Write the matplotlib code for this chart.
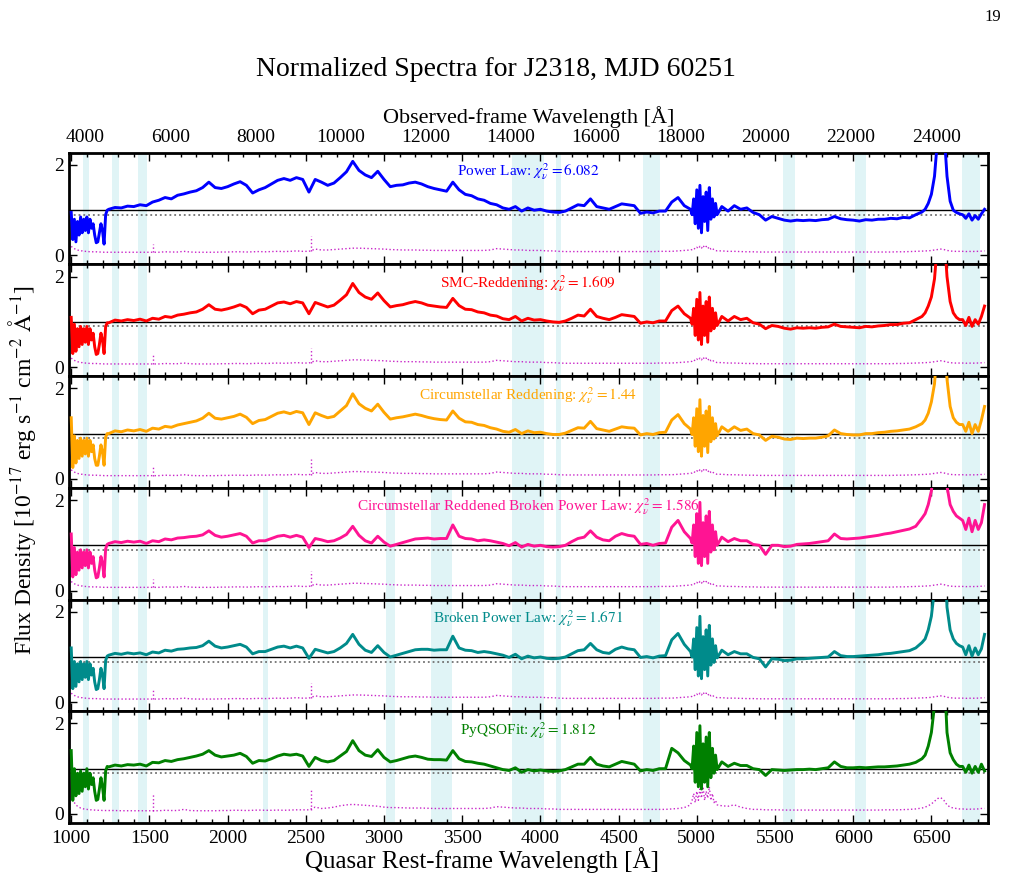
import numpy as np
import matplotlib
matplotlib.use('Agg')
from matplotlib import pyplot as plt
from matplotlib.ticker import MultipleLocator, FixedLocator

plt.rcParams['font.family'] = ['Liberation Serif', 'DejaVu Serif']
plt.rcParams['mathtext.fontset'] = 'stix'

z = 2.675

# rest-frame sampling: finer in the Ly-alpha forest, the noisy 5000 A stretch and H-alpha
wave = np.concatenate([np.arange(1000, 1240, 10), np.arange(1240, 4961, 40),
                       np.arange(4970, 5131, 10), np.arange(5160, 6441, 40),
                       np.arange(6460, 6681, 20), np.arange(6700, 6841, 20)])

flux_powerlaw = [
    0.95, 0.35, 0.80, 0.30, 0.75, 0.45, 0.85, 0.50, 0.80, 0.55, 0.85, 0.50,
    0.80, 0.60, 0.70, 0.45, 0.28, 0.30, 0.50, 0.70, 0.55, 0.25, 0.90, 1.00,
    1.02, 1.06, 1.05, 1.09, 1.08, 1.12, 1.10, 1.18, 1.22, 1.28,
    1.25, 1.33, 1.36, 1.40, 1.43, 1.50, 1.62, 1.50, 1.48, 1.52,
    1.58, 1.63, 1.55, 1.38, 1.45, 1.50, 1.58, 1.66, 1.70, 1.66,
    1.72, 1.68, 1.40, 1.68, 1.62, 1.55, 1.60, 1.72, 1.85, 2.08,
    1.88, 1.78, 1.72, 1.86, 1.68, 1.52, 1.55, 1.56, 1.60, 1.62,
    1.58, 1.52, 1.48, 1.45, 1.42, 1.62, 1.45, 1.35, 1.32, 1.25,
    1.22, 1.15, 1.12, 1.05, 1.02, 1.08, 0.98, 1.05, 1.00, 1.02,
    0.98, 0.96, 0.95, 0.98, 1.05, 1.12, 1.10, 1.25, 1.08, 1.05,
    1.02, 1.08, 1.14, 1.12, 1.10, 0.93, 0.96, 0.94, 0.98, 0.98,
    1.18, 1.28, 1.10, 1.02,
    0.90, 1.25, 0.70, 1.45, 0.60, 1.55, 0.50, 1.30, 0.75, 1.40, 0.55, 1.50,
    0.80, 1.25, 0.85, 1.15, 0.90,
    1.08, 0.98, 1.10, 1.02, 1.05, 0.95, 0.90, 0.78, 0.86, 0.82,
    0.78, 0.76, 0.78, 0.77, 0.78, 0.77, 0.79, 0.80, 0.86, 0.81,
    0.79, 0.78, 0.76, 0.79, 0.78, 0.80, 0.80, 0.82, 0.81, 0.84,
    0.83, 0.90, 0.96,
    1.02, 1.15, 1.35, 1.75, 2.60, 3.50, 2.80, 1.75, 1.20, 1.00, 0.95, 0.92,
    0.90, 0.82, 0.92, 0.78, 0.88, 0.80, 0.92, 1.02]

flux_smc = [
    1.10, 0.30, 0.95, 0.35, 0.85, 0.45, 0.90, 0.50, 0.85, 0.55, 0.90, 0.50,
    0.85, 0.60, 0.75, 0.45, 0.28, 0.30, 0.50, 0.75, 0.60, 0.30, 0.90, 0.98,
    0.98, 1.04, 1.02, 1.05, 1.03, 1.06, 1.02, 1.08, 1.06, 1.12,
    1.10, 1.15, 1.17, 1.20, 1.22, 1.28, 1.38, 1.28, 1.26, 1.29,
    1.33, 1.38, 1.32, 1.18, 1.26, 1.28, 1.35, 1.42, 1.44, 1.40,
    1.45, 1.42, 1.18, 1.43, 1.38, 1.33, 1.37, 1.48, 1.60, 1.85,
    1.65, 1.55, 1.50, 1.64, 1.47, 1.33, 1.36, 1.38, 1.42, 1.45,
    1.42, 1.37, 1.35, 1.33, 1.32, 1.52, 1.36, 1.28, 1.27, 1.22,
    1.20, 1.15, 1.13, 1.07, 1.05, 1.12, 1.02, 1.08, 1.04, 1.05,
    1.02, 1.00, 0.99, 1.02, 1.08, 1.15, 1.13, 1.28, 1.12, 1.08,
    1.05, 1.10, 1.16, 1.14, 1.12, 0.97, 1.00, 0.98, 1.02, 1.02,
    1.25, 1.35, 1.18, 1.08,
    0.95, 1.30, 0.70, 1.50, 0.60, 1.65, 0.50, 1.35, 0.70, 1.45, 0.55, 1.55,
    0.80, 1.30, 0.85, 1.20, 0.92,
    1.12, 1.02, 1.12, 1.05, 1.08, 0.98, 0.95, 0.85, 0.92, 0.90,
    0.86, 0.84, 0.87, 0.86, 0.87, 0.86, 0.88, 0.89, 0.95, 0.90,
    0.89, 0.88, 0.87, 0.90, 0.89, 0.91, 0.92, 0.94, 0.94, 0.97,
    0.98, 1.05, 1.12,
    1.20, 1.35, 1.55, 1.95, 2.80, 3.60, 3.00, 2.00, 1.45, 1.20, 1.10, 1.05,
    1.05, 0.92, 1.10, 0.90, 1.05, 0.95, 1.12, 1.35]

flux_cs = [
    1.35, 0.25, 0.95, 0.35, 0.85, 0.45, 0.90, 0.50, 0.85, 0.55, 0.90, 0.50,
    0.85, 0.60, 0.75, 0.45, 0.30, 0.30, 0.50, 0.75, 0.60, 0.30, 0.92, 1.00,
    1.00, 1.06, 1.04, 1.08, 1.06, 1.09, 1.05, 1.12, 1.10, 1.16,
    1.14, 1.19, 1.22, 1.25, 1.28, 1.34, 1.45, 1.34, 1.32, 1.35,
    1.38, 1.43, 1.36, 1.22, 1.29, 1.31, 1.38, 1.45, 1.48, 1.44,
    1.49, 1.46, 1.20, 1.46, 1.40, 1.35, 1.38, 1.50, 1.62, 1.88,
    1.66, 1.56, 1.50, 1.65, 1.47, 1.32, 1.35, 1.37, 1.40, 1.43,
    1.40, 1.36, 1.33, 1.31, 1.30, 1.50, 1.34, 1.26, 1.25, 1.20,
    1.18, 1.13, 1.10, 1.05, 1.03, 1.09, 1.00, 1.06, 1.02, 1.03,
    1.00, 0.98, 0.98, 1.01, 1.07, 1.13, 1.12, 1.27, 1.11, 1.08,
    1.05, 1.10, 1.15, 1.13, 1.12, 0.97, 1.00, 0.98, 1.02, 1.03,
    1.30, 1.42, 1.22, 1.10,
    0.98, 1.35, 0.72, 1.55, 0.60, 1.75, 0.50, 1.40, 0.72, 1.50, 0.58, 1.60,
    0.82, 1.35, 0.88, 1.22, 0.95,
    1.15, 1.05, 1.15, 1.07, 1.10, 1.00, 0.97, 0.85, 0.94, 0.92,
    0.88, 0.87, 0.90, 0.89, 0.90, 0.90, 0.92, 0.95, 1.08, 1.00,
    0.98, 0.97, 0.97, 1.00, 1.00, 1.02, 1.03, 1.05, 1.06, 1.08,
    1.10, 1.15, 1.22,
    1.30, 1.45, 1.70, 2.10, 3.00, 3.80, 3.20, 2.20, 1.60, 1.35, 1.25, 1.20,
    1.20, 1.05, 1.25, 1.00, 1.20, 1.05, 1.30, 1.60]

flux_csbpl = [
    1.25, 0.30, 0.95, 0.35, 0.85, 0.45, 0.90, 0.50, 0.85, 0.55, 0.90, 0.50,
    0.85, 0.60, 0.75, 0.45, 0.28, 0.30, 0.50, 0.75, 0.60, 0.30, 0.92, 1.02,
    1.04, 1.08, 1.06, 1.09, 1.07, 1.09, 1.04, 1.10, 1.08, 1.14,
    1.12, 1.16, 1.17, 1.19, 1.20, 1.23, 1.32, 1.22, 1.18, 1.20,
    1.23, 1.26, 1.20, 1.05, 1.10, 1.10, 1.15, 1.20, 1.22, 1.18,
    1.22, 1.18, 0.95, 1.15, 1.12, 1.08, 1.10, 1.16, 1.24, 1.42,
    1.22, 1.10, 1.05, 1.20, 1.07, 0.98, 1.02, 1.06, 1.10, 1.14,
    1.15, 1.16, 1.14, 1.15, 1.15, 1.45, 1.20, 1.15, 1.14, 1.10,
    1.12, 1.10, 1.07, 1.04, 0.99, 1.06, 0.96, 1.02, 0.98, 1.00,
    0.97, 0.96, 0.97, 1.00, 1.08, 1.15, 1.18, 1.32, 1.18, 1.12,
    1.10, 1.20, 1.26, 1.22, 1.20, 1.02, 1.04, 1.00, 1.04, 1.05,
    1.40, 1.55, 1.30, 1.15,
    1.05, 1.45, 0.75, 1.70, 0.60, 1.95, 0.55, 1.50, 0.75, 1.65, 0.60, 1.75,
    0.85, 1.45, 0.90, 1.30, 1.00,
    1.18, 1.08, 1.15, 1.10, 1.10, 1.02, 1.00, 0.80, 1.00, 1.00,
    0.97, 0.98, 1.02, 1.03, 1.04, 1.06, 1.08, 1.10, 1.25, 1.15,
    1.14, 1.15, 1.16, 1.18, 1.20, 1.22, 1.25, 1.27, 1.30, 1.33,
    1.36, 1.42, 1.60,
    1.70, 1.90, 2.20, 2.80, 3.80, 4.50, 3.80, 2.30, 1.90, 1.75, 1.65, 1.60,
    1.55, 1.35, 1.60, 1.30, 1.55, 1.35, 1.50, 1.90]

flux_bpl = [
    1.20, 0.30, 0.90, 0.35, 0.85, 0.45, 0.90, 0.50, 0.85, 0.55, 0.90, 0.50,
    0.85, 0.60, 0.75, 0.45, 0.28, 0.30, 0.50, 0.75, 0.60, 0.30, 0.92, 1.02,
    1.04, 1.08, 1.06, 1.09, 1.07, 1.09, 1.05, 1.11, 1.09, 1.15,
    1.13, 1.17, 1.18, 1.20, 1.21, 1.25, 1.35, 1.24, 1.20, 1.22,
    1.25, 1.28, 1.22, 1.07, 1.12, 1.12, 1.17, 1.22, 1.24, 1.20,
    1.24, 1.20, 0.97, 1.17, 1.13, 1.09, 1.12, 1.20, 1.30, 1.50,
    1.28, 1.15, 1.10, 1.25, 1.10, 1.00, 1.04, 1.08, 1.12, 1.16,
    1.17, 1.17, 1.15, 1.16, 1.16, 1.46, 1.20, 1.15, 1.14, 1.10,
    1.12, 1.10, 1.07, 1.04, 0.99, 1.06, 0.96, 1.02, 0.98, 1.00,
    0.97, 0.96, 0.97, 1.00, 1.07, 1.14, 1.16, 1.30, 1.16, 1.10,
    1.08, 1.17, 1.22, 1.18, 1.16, 0.99, 1.01, 0.98, 1.02, 1.03,
    1.38, 1.52, 1.28, 1.12,
    1.00, 1.40, 0.72, 1.65, 0.58, 1.90, 0.52, 1.45, 0.72, 1.60, 0.58, 1.70,
    0.82, 1.40, 0.88, 1.25, 0.98,
    1.15, 1.05, 1.12, 1.07, 1.07, 0.99, 0.96, 0.78, 0.96, 0.95,
    0.92, 0.93, 0.96, 0.96, 0.97, 0.98, 0.99, 1.00, 1.12, 1.03,
    1.01, 1.01, 1.02, 1.03, 1.04, 1.05, 1.07, 1.08, 1.10, 1.12,
    1.14, 1.20, 1.32,
    1.40, 1.60, 1.90, 2.50, 3.50, 4.20, 3.50, 2.10, 1.60, 1.40, 1.30, 1.25,
    1.22, 1.05, 1.25, 1.02, 1.20, 1.05, 1.18, 1.50]

flux_pyqso = [
    1.40, 0.30, 1.00, 0.40, 0.90, 0.45, 0.95, 0.50, 0.90, 0.60, 1.00, 0.55,
    0.90, 0.65, 0.80, 0.50, 0.30, 0.32, 0.55, 0.80, 0.60, 0.30, 0.95, 1.05,
    1.04, 1.08, 1.06, 1.09, 1.08, 1.10, 1.06, 1.14, 1.13, 1.18,
    1.16, 1.20, 1.22, 1.25, 1.28, 1.32, 1.40, 1.30, 1.26, 1.28,
    1.30, 1.34, 1.27, 1.12, 1.18, 1.17, 1.22, 1.28, 1.32, 1.30,
    1.32, 1.28, 1.05, 1.25, 1.18, 1.15, 1.18, 1.28, 1.38, 1.62,
    1.40, 1.30, 1.27, 1.42, 1.25, 1.15, 1.18, 1.22, 1.26, 1.28,
    1.25, 1.21, 1.20, 1.20, 1.19, 1.40, 1.22, 1.16, 1.15, 1.12,
    1.10, 1.06, 1.02, 0.98, 0.96, 1.02, 0.92, 0.98, 0.95, 0.97,
    0.95, 0.94, 0.95, 0.98, 1.04, 1.10, 1.10, 1.25, 1.10, 1.06,
    1.04, 1.10, 1.16, 1.13, 1.10, 0.95, 0.98, 0.96, 1.00, 1.00,
    1.45, 1.35, 1.18, 1.08,
    1.00, 1.50, 0.70, 1.80, 0.60, 1.95, 0.55, 1.55, 0.70, 1.70, 0.60, 1.80,
    0.80, 1.45, 0.90, 1.30, 0.98,
    1.15, 1.05, 1.12, 1.07, 1.07, 1.00, 0.98, 0.85, 0.98, 0.97,
    0.96, 0.97, 0.98, 0.98, 0.99, 0.98, 1.00, 1.02, 1.15, 1.05,
    1.02, 1.02, 1.03, 1.02, 1.03, 1.04, 1.04, 1.05, 1.06, 1.08,
    1.10, 1.14, 1.22,
    1.30, 1.50, 1.80, 2.40, 3.40, 4.00, 3.30, 1.80, 1.35, 1.20, 1.10, 1.05,
    1.05, 0.92, 1.08, 0.90, 1.05, 0.92, 1.10, 0.95]

# normalized flux errors (dotted magenta)
err_main = [
    0.20, 0.17, 0.15, 0.13, 0.12, 0.11, 0.10, 0.10, 0.09, 0.09, 0.09, 0.085,
    0.08, 0.08, 0.08, 0.08, 0.08, 0.075, 0.075, 0.075, 0.075, 0.07, 0.07, 0.07,
    0.07, 0.07, 0.07, 0.07, 0.07, 0.07, 0.07, 0.07, 0.07, 0.08,
    0.075, 0.075, 0.09, 0.075, 0.07, 0.07, 0.07, 0.07, 0.075, 0.075,
    0.08, 0.08, 0.075, 0.08, 0.085, 0.08, 0.085, 0.09, 0.085, 0.09,
    0.10, 0.09, 0.09, 0.14, 0.12, 0.12, 0.13, 0.14, 0.15, 0.16,
    0.16, 0.155, 0.15, 0.145, 0.14, 0.13, 0.125, 0.12, 0.12, 0.12,
    0.115, 0.115, 0.11, 0.11, 0.11, 0.11, 0.11, 0.11, 0.11, 0.11,
    0.11, 0.12, 0.15, 0.14, 0.13, 0.12, 0.12, 0.11, 0.11, 0.11,
    0.10, 0.10, 0.09, 0.085, 0.085, 0.085, 0.085, 0.085, 0.085, 0.085,
    0.085, 0.085, 0.085, 0.085, 0.085, 0.085, 0.085, 0.085, 0.09, 0.09,
    0.09, 0.10, 0.11, 0.12,
    0.13, 0.16, 0.14, 0.18, 0.15, 0.20, 0.16, 0.22, 0.17, 0.20, 0.15, 0.19,
    0.14, 0.16, 0.12, 0.11, 0.10,
    0.10, 0.09, 0.09, 0.085, 0.08, 0.08, 0.075, 0.075, 0.075, 0.075,
    0.075, 0.075, 0.075, 0.075, 0.075, 0.075, 0.075, 0.075, 0.075, 0.075,
    0.075, 0.075, 0.075, 0.075, 0.075, 0.075, 0.075, 0.075, 0.08, 0.08,
    0.085, 0.09, 0.095,
    0.10, 0.10, 0.11, 0.12, 0.13, 0.14, 0.13, 0.11, 0.10, 0.09, 0.09, 0.09,
    0.09, 0.085, 0.09, 0.085, 0.09, 0.09, 0.095, 0.10]

err_pyqso = [
    0.40, 0.30, 0.25, 0.20, 0.17, 0.15, 0.13, 0.12, 0.11, 0.10, 0.10, 0.095,
    0.09, 0.09, 0.085, 0.085, 0.08, 0.08, 0.08, 0.08, 0.075, 0.075, 0.075, 0.075,
    0.075, 0.075, 0.07, 0.07, 0.07, 0.07, 0.07, 0.07, 0.07, 0.08,
    0.075, 0.075, 0.10, 0.075, 0.07, 0.07, 0.07, 0.07, 0.075, 0.075,
    0.08, 0.08, 0.075, 0.08, 0.085, 0.08, 0.08, 0.085, 0.08, 0.085,
    0.09, 0.09, 0.09, 0.15, 0.12, 0.13, 0.15, 0.18, 0.20, 0.21,
    0.20, 0.19, 0.18, 0.17, 0.15, 0.14, 0.14, 0.135, 0.13, 0.13,
    0.13, 0.125, 0.12, 0.12, 0.12, 0.12, 0.12, 0.12, 0.12, 0.12,
    0.12, 0.13, 0.16, 0.15, 0.14, 0.13, 0.13, 0.12, 0.12, 0.12,
    0.11, 0.11, 0.10, 0.10, 0.10, 0.10, 0.10, 0.10, 0.10, 0.10,
    0.10, 0.10, 0.10, 0.10, 0.10, 0.10, 0.10, 0.10, 0.10, 0.10,
    0.11, 0.12, 0.14, 0.20,
    0.30, 0.45, 0.25, 0.50, 0.30, 0.55, 0.35, 0.60, 0.30, 0.50, 0.35, 0.60,
    0.30, 0.45, 0.25, 0.30, 0.20,
    0.18, 0.17, 0.20, 0.15, 0.12, 0.10, 0.10, 0.09, 0.09, 0.09,
    0.085, 0.085, 0.085, 0.085, 0.085, 0.085, 0.085, 0.085, 0.085, 0.085,
    0.085, 0.085, 0.085, 0.085, 0.085, 0.085, 0.09, 0.09, 0.09, 0.095,
    0.10, 0.11, 0.13,
    0.15, 0.18, 0.22, 0.28, 0.34, 0.36, 0.30, 0.20, 0.15, 0.13, 0.12, 0.11,
    0.11, 0.10, 0.11, 0.10, 0.11, 0.11, 0.12, 0.12]

# narrow spikes in the error spectrum (sky / bad pixels)
spike_wave = [1520, 2530]
spike_base = [0.07, 0.09]
spike_top_main = [0.26, 0.43]
spike_top_pyqso = [0.45, 0.55]

model_names = ['Power Law', 'SMC-Reddening', 'Circumstellar Reddening',
               'Circumstellar Reddened Broken Power Law', 'Broken Power Law', 'PyQSOFit']
chi2_values = ['6.082', '1.609', '1.44', '1.586', '1.671', '1.812']
colors = ['#0000ff', '#ff0000', '#ffa500', '#ff1493', '#008b8b', '#008000']
fluxes = [flux_powerlaw, flux_smc, flux_cs, flux_csbpl, flux_bpl, flux_pyqso]
errors = [err_main, err_main, err_main, err_main, err_main, err_pyqso]
spike_tops = [spike_top_main] * 5 + [spike_top_pyqso]

# masked windows (rest frame)
bands_all = [(1074, 1112), (1261, 1308), (1426, 1485), (3818, 4025), (4099, 4131),
             (4658, 4765), (5550, 5631), (6013, 6084), (6698, 6809)]
bands_extra = [(2226, 2260), (3011, 3069), (3299, 3434)]

fig = plt.figure(figsize=(10.13, 8.83), dpi=100)
axes = fig.subplots(6, 1, sharex=True, gridspec_kw=dict(hspace=0))
fig.subplots_adjust(left=0.068, right=0.975, top=0.827, bottom=0.068)

for i, ax in enumerate(axes):
    bands = bands_all + (bands_extra if i >= 3 else [])
    for lo, hi in bands:
        ax.axvspan(lo, hi, color='#e0f4f6', lw=0, zorder=0)
    ax.axhline(1.0, color='k', lw=1, zorder=1)
    ax.axhline(0.9, color='0.45', lw=1.3, ls=':', zorder=1)
    ax.plot(wave, errors[i], color='m', ls=':', lw=1, alpha=0.85, zorder=2)
    ax.vlines(spike_wave, spike_base, spike_tops[i], color='m', ls=':', lw=1, alpha=0.85, zorder=2)
    ax.plot(wave, fluxes[i], color=colors[i], lw=2.1, zorder=3)
    ax.text(0.5, 0.83, model_names[i] + r': $\chi^2_\nu = ' + chi2_values[i] + '$',
            transform=ax.transAxes, ha='center', va='center', color=colors[i], fontsize=11)
    ax.set_ylim(-0.2, 2.27)
    ax.yaxis.set_major_locator(MultipleLocator(2))
    ax.xaxis.set_major_locator(MultipleLocator(500))
    ax.xaxis.set_minor_locator(MultipleLocator(100))
    ax.tick_params(which='both', direction='in', top=True, right=True, labelsize=14)
    ax.tick_params(which='major', length=6, width=1)
    ax.tick_params(which='minor', length=3, width=1)
    for sp in ax.spines.values():
        sp.set_linewidth(2)

axes[-1].set_xlim(985, 6860)
axes[-1].tick_params(axis='x', pad=5)

sec = axes[0].secondary_xaxis('top', functions=(lambda x: x * (1 + z), lambda x: x / (1 + z)))
sec.xaxis.set_major_locator(FixedLocator(list(range(4000, 24001, 2000))))
sec.tick_params(direction='in', length=0, labelsize=14, pad=5)
sec.set_xlabel('Observed-frame Wavelength [Å]', fontsize=16, labelpad=4)

fig.text(0.49, 0.921, 'Normalized Spectra for J2318, MJD 60251', ha='center', va='center', fontsize=20)
fig.text(0.988, 0.981, '19', ha='right', va='center', fontsize=12)
fig.text(0.476, 0.026, 'Quasar Rest-frame Wavelength [Å]', ha='center', va='center', fontsize=18)
fig.text(0.022, 0.468, r'Flux Density [10$^{-17}$ erg s$^{-1}$ cm$^{-2}$ $\mathrm{\AA}^{-1}$]',
         rotation=90, ha='center', va='center', fontsize=17)

fig.savefig('out.png', dpi=100)
